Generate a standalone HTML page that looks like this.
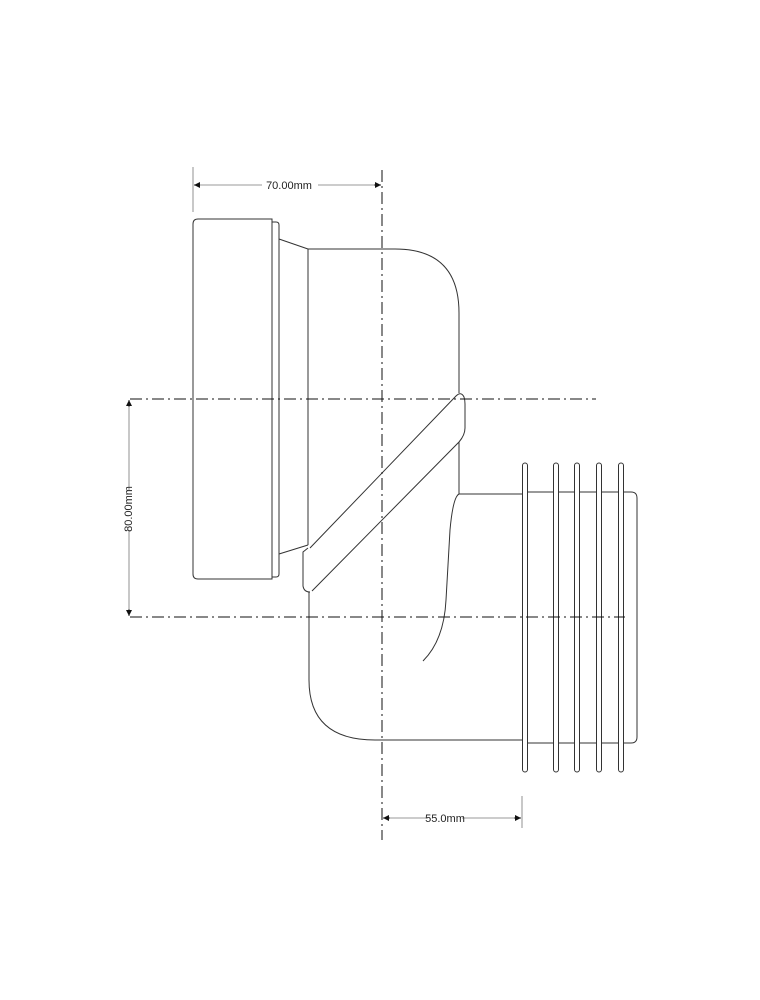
<!DOCTYPE html>
<html><head><meta charset="utf-8"><style>
html,body{margin:0;padding:0;background:#fff;}
svg{display:block;}
text{font-family:"Liberation Sans",sans-serif;font-size:11px;fill:#222;}
</style></head><body>
<svg width="760" height="1000" viewBox="0 0 760 1000" xmlns="http://www.w3.org/2000/svg">
<defs>
<marker id="ar" viewBox="0 0 10 10" refX="10" refY="5" markerWidth="8" markerHeight="6" orient="auto-start-reverse" markerUnits="userSpaceOnUse"><path d="M0,0 L10,5 L0,10 z" fill="#111"/></marker>
</defs>
<g fill="none" stroke="#333" stroke-width="1">
<!-- flange -->
<path d="M198,219 H272 V579 H198 Q193,579 193,574 V224 Q193,219 198,219 Z"/>
<path d="M272,222 H276 Q279,222 279,225 V574 Q279,577 276,577 H272"/>
<path d="M279,239 L308,249"/>
<path d="M279,554 L308,545"/>
<!-- upper body -->
<path d="M308,249 V545"/>
<path d="M308,249 H395 Q459,249 459,313 V393"/>
<!-- diagonal ring -->
<path d="M310,548 L456,396 Q461,391 464,397 Q465,400 465,404 V428 Q465,435 459,442 L312,591"/>
<path d="M308,548 L303,552 V586 Q304,592 310,592"/>
<path d="M459,442 V494 H522"/>
<!-- lower body -->
<path d="M309,592 V680 Q309,740 375,740 H522"/>
<path d="M459,494 Q453,497 450,530 L446,600 Q444,640 423,661"/>
<!-- spigot -->
<path d="M522,492 H631 Q637,492 637,498 V737 Q637,743 631,743 H522"/>
<g fill="#fff">
<rect x="522.5" y="463" width="5" height="309" rx="2.5"/>
<rect x="553.5" y="463" width="5" height="309" rx="2.5"/>
<rect x="574.5" y="463" width="5" height="309" rx="2.5"/>
<rect x="596.5" y="463" width="5" height="309" rx="2.5"/>
<rect x="618.5" y="463" width="5" height="309" rx="2.5"/>
</g>
</g>
<!-- centerlines -->
<g stroke="#111" stroke-width="1" stroke-dasharray="12 4 2 4" fill="none">
<path d="M382,170 V840"/>
<path d="M130,399 H596"/>
<path d="M130,617 H625"/>
</g>
<!-- dimensions -->
<g stroke="#777" stroke-width="0.8" fill="none">
<path d="M193,167 V212"/>
<path d="M522,796 V828"/>
<path d="M194,185 H262 M318,185 H381" />
<path d="M129,400 V490 M129,530 V616"/>
<path d="M383,818 H428 M462,818 H521"/>
</g>
<g stroke="#111" stroke-width="0.8">
<path d="M200,185 H194" marker-end="url(#ar)"/>
<path d="M374,185 H381" marker-end="url(#ar)"/>
<path d="M129,407 V400" marker-end="url(#ar)"/>
<path d="M129,609 V616" marker-end="url(#ar)"/>
<path d="M390,818 H383" marker-end="url(#ar)"/>
<path d="M514,818 H521" marker-end="url(#ar)"/>
</g>
<text x="289" y="189" text-anchor="middle">70.00mm</text>
<text x="445" y="822" text-anchor="middle">55.0mm</text>
<text x="0" y="0" text-anchor="middle" transform="translate(132,509) rotate(-90)">80.00mm</text>
</svg>
</body></html>
